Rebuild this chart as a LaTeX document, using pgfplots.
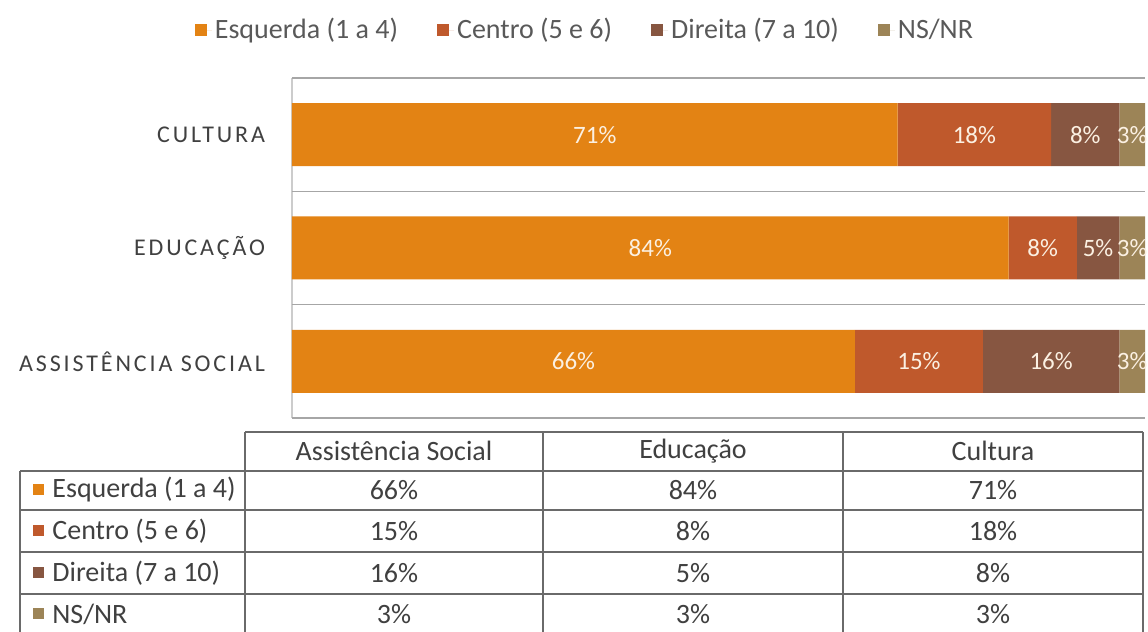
\documentclass[border=0pt]{standalone}
\usepackage{pgfplots}
\pgfplotsset{compat=1.18}
\usepackage{fontspec}
\setmainfont{Carlito}
\newfontfamily\spaced[LetterSpace=12]{Carlito}
\definecolor{cEsq}{HTML}{E38314}
\definecolor{cCen}{HTML}{BF592C}
\definecolor{cDir}{HTML}{875641}
\definecolor{cNS}{HTML}{9C8457}
\definecolor{txt}{HTML}{404040}
\definecolor{lgd}{HTML}{595959}
\definecolor{lbl}{HTML}{FBF0E2}
\definecolor{tline}{HTML}{6A6A6A}
\begin{document}
\begin{tikzpicture}
\useasboundingbox (0,0) rectangle (574pt,316pt);
\begin{axis}[
  at={(146pt,107pt)}, anchor=south west,
  scale only axis, width=426.5pt, height=170pt,
  xbar stacked, bar width=31.5pt,
  xmin=0, xmax=100, ymin=-0.5, ymax=2.5,
  axis x line=none,
  axis y line*=left,
  y axis line style={draw=gray!40, line width=0.8pt, -},
  ytick={0,1,2},
  yticklabels={ASSISTÊNCIA SOCIAL, EDUCAÇÃO, CULTURA},
  major tick length=0pt,
  yticklabel style={font=\spaced\fontsize{12}{14}\selectfont, text=txt, anchor=east, xshift=-10pt},
  extra y ticks={-0.5,0.5,1.5,2.5},
  extra y tick labels={},
  extra y tick style={grid=major, major grid style={draw=gray!70, line width=0.8pt}},
  point meta=rawx,
  nodes near coords={\pgfmathprintnumber[assume math mode=true]{\pgfplotspointmeta}\%},
  every node near coord/.append style={font=\fontsize{12.5}{14}\selectfont, text=lbl},
  legend columns=4,
  legend style={at={(0.344,1.141)}, anchor=center, draw=none, fill=none,
    font=\fontsize{14}{16}\selectfont, text=lgd,
    nodes={inner xsep=1.5pt},
    /tikz/every even column/.append style={column sep=18pt}},
  legend image code/.code={\fill[#1] (0pt,-3pt) rectangle (6pt,3pt); \path (0pt,0pt) -- (8.5pt,0pt);},
  clip=false,
]
\addplot[fill=cEsq, draw=none] coordinates {(66,0) (84,1) (71,2)};
\addplot[fill=cCen, draw=none] coordinates {(15,0) (8,1) (18,2)};
\addplot[fill=cDir, draw=none] coordinates {(16,0) (5,1) (8,2)};
\addplot[fill=cNS, draw=none] coordinates {(3,0) (3,1) (3,2)};
\legend{Esquerda (1 a 4), Centro (5 e 6), Direita (7 a 10), NS/NR}
\end{axis}
\begin{scope}[x=0.5pt, y=-0.5pt, shift={(0pt,316pt)}]
  \draw[tline, line width=0.8pt] (245,432) -- (1143,432);
  \foreach \yy in {471,510,552,594} {\draw[tline, line width=0.8pt] (20,\yy) -- (1143,\yy);}
  \foreach \xx in {245,543,843,1143} {\draw[tline, line width=0.8pt] (\xx,432) -- (\xx,640);}
  \draw[tline, line width=0.8pt] (20,471) -- (20,640);
  \begin{scope}[every node/.style={font=\fontsize{14}{16}\selectfont, text=txt}]
  \node at (394,451) {Assistência Social};
  \node at (693,451) {Educação};
  \node at (993,451) {Cultura};
  \node at (394,490) {66\%}; \node at (693,490) {84\%}; \node at (993,490) {71\%};
  \node at (394,531) {15\%}; \node at (693,531) {8\%}; \node at (993,531) {18\%};
  \node at (394,573) {16\%}; \node at (693,573) {5\%}; \node at (993,573) {8\%};
  \node at (394,614) {3\%}; \node at (693,614) {3\%}; \node at (993,614) {3\%};
  \node[anchor=west, inner xsep=0pt] at (52,490) {Esquerda (1 a 4)};
  \node[anchor=west, inner xsep=0pt] at (52,531) {Centro (5 e 6)};
  \node[anchor=west, inner xsep=0pt] at (52,573) {Direita (7 a 10)};
  \node[anchor=west, inner xsep=0pt] at (52,614) {NS/NR};
  \end{scope}
  \fill[cEsq] (33,484) rectangle (44,495);
  \fill[cCen] (33,525) rectangle (44,536);
  \fill[cDir] (33,567) rectangle (44,578);
  \fill[cNS] (33,608) rectangle (44,619);
\end{scope}
\end{tikzpicture}
\end{document}
